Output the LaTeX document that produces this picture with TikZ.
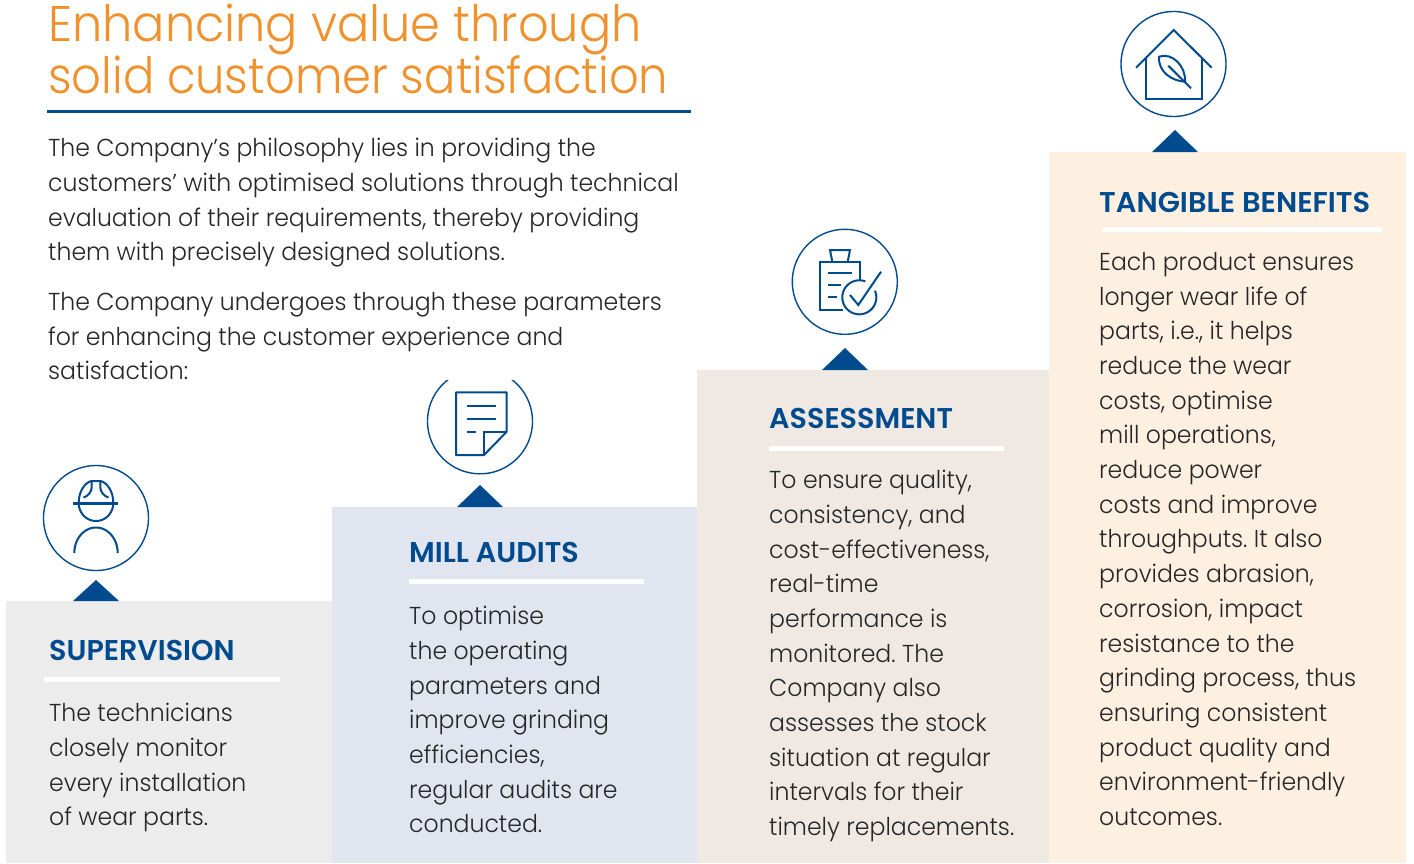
\documentclass[tikz,border=0pt]{standalone}
\usepackage{fontspec}
\setmainfont{Poppins Light}[FakeStretch=0.962]
\newfontfamily\headfont{Poppins SemiBold}
\frenchspacing
\definecolor{navy}{HTML}{004B8D}
\definecolor{orangeT}{HTML}{F0912C}
\definecolor{bodyT}{HTML}{262626}
\definecolor{boxA}{HTML}{ECECEC}
\definecolor{boxB}{HTML}{E1E5EF}
\definecolor{boxC}{HTML}{F0E9E3}
\definecolor{boxD}{HTML}{FDF0E1}
\tikzset{
 titletext/.style={anchor=base west,inner sep=0pt,text=orangeT,font=\fontsize{50}{52}\selectfont},
 bodytext/.style={anchor=north west,inner sep=0pt,align=left,text=bodyT,font=\fontsize{24.5}{34.7}\selectfont},
 headtext/.style={anchor=base west,inner sep=0pt,text=navy,font=\headfont\fontsize{28.6}{30}\selectfont},
 whiterule/.style={white,line width=5pt},
 tri/.style={fill=navy,draw=none},
 ring/.style={draw=navy,line width=1.4pt},
 icon/.style={draw=navy,line width=2pt},
}
\begin{document}
\begin{tikzpicture}[x=1pt,y=-1pt]
\useasboundingbox (0,0) rectangle (1414,863);
\fill[white] (0,0) rectangle (1414,863);
% boxes
\fill[boxA] (6,601) rectangle (332,863);
\fill[boxB] (332,507) rectangle (697,863);
\fill[boxC] (697,370) rectangle (1049,863);
\fill[boxD] (1049,152) rectangle (1406,863);
% triangles
\fill[tri] (73,601) -- (96,580) -- (119,601) -- cycle;
\fill[tri] (457,507) -- (480,485) -- (503,507) -- cycle;
\fill[tri] (822,370) -- (845,348) -- (868,370) -- cycle;
\fill[tri] (1152,152) -- (1175,130) -- (1198,152) -- cycle;
% title
\node[titletext] (titlea) at (48,41) {\scalebox{0.994}[1]{Enhancing value through}};
\node[titletext] (titleb) at (48,93) {\scalebox{0.966}[1]{solid customer satisfaction}};
\draw[navy,line width=3pt] (47,111.5) -- (691,111.5);
\node[bodytext] (introa) at (48,138) {The Company’s philosophy lies in providing the\\customers’ with optimised solutions through technical\\evaluation of their requirements, thereby providing\\them with precisely designed solutions.};
\node[bodytext] (introb) at (48,292) {The Company undergoes through these parameters\\for enhancing the customer experience and\\satisfaction:};
% headings
\node[headtext] (h1) at (49,660.7) {SUPERVISION};
\node[headtext] (h2) at (409,562.7) {MILL AUDITS};
\node[headtext] (h3) at (769,428.7) {ASSESSMENT};
\node[headtext] (h4) at (1099,212.7) {\scalebox{1.01}[1]{TANGIBLE BENEFITS}};
\draw[whiterule] (44,679) -- (280,679);
\draw[whiterule] (409,581) -- (644,581);
\draw[whiterule] (769,448) -- (1004,448);
\draw[whiterule] (1102,229) -- (1382,229);
% bodies
\node[bodytext] (b1) at (49,703) {The technicians\\closely monitor\\every installation\\of wear parts.};
\node[bodytext] (b2) at (409,606) {To optimise\\the operating\\parameters and\\improve grinding\\efficiencies,\\regular audits are\\conducted.};
\node[bodytext] (b3) at (769,470) {To ensure quality,\\consistency, and\\cost-effectiveness,\\real-time\\performance is\\monitored. The\\Company also\\assesses the stock\\situation at regular\\intervals for their\\timely replacements.};
\node[bodytext] (b4) at (1099,252) {Each product ensures\\longer wear life of\\parts, i.e., it helps\\reduce the wear\\costs, optimise\\mill operations,\\reduce power\\costs and improve\\throughputs. It also\\provides abrasion,\\corrosion, impact\\resistance to the\\grinding process, thus\\ensuring consistent\\product quality and\\environment-friendly\\outcomes.};
% rings
\draw[ring] plot[domain=0:360,samples=120,smooth] ({96+52.5*cos(\x)},{518+52.5*sin(\x)});
\begin{scope}
\clip (420,380) rectangle (540,480);
\draw[ring] plot[domain=0:360,samples=120,smooth] ({480+52.5*cos(\x)},{421.3+52.5*sin(\x)});
\end{scope}
\draw[ring] plot[domain=0:360,samples=120,smooth] ({844.8+52.5*cos(\x)},{281.8+52.5*sin(\x)});
\draw[ring] plot[domain=0:360,samples=120,smooth] ({1173.5+52.5*cos(\x)},{64+52.5*sin(\x)});
% worker
\draw[icon] plot[domain=0:180,samples=40] ({96+17.3*cos(\x)},{503+18*sin(\x)});
\draw[icon] (78.7,503) .. controls (78.7,491) and (85,482.5) .. (91.5,481) -- (100.5,481) .. controls (107,482.5) and (113.3,491) .. (113.3,503);
\draw[icon] (91.7,481) -- (91.7,487) .. controls (91.7,492) and (88,496) .. (83.5,497.5);
\draw[icon] (100.3,481) -- (100.3,487) .. controls (100.3,492) and (104,496) .. (108.5,497.5);
\draw[navy,line width=2.6pt] (73,503.3) -- (118,503.3);
\draw[icon] plot[domain=180:360,samples=40] ({96+21.7*cos(\x)},{553+25.5*sin(\x)});
% document
\draw[icon,line join=round] (484,455) -- (456,455) -- (456,392.3) -- (506.7,392.3) -- (506.7,431.7) -- cycle;
\draw[icon] (506.7,431.7) -- (484,431.7) -- (484,455);
\draw[icon] (466.7,405.7) -- (495.7,405.7);
\draw[icon] (466.7,419) -- (495.7,419);
\draw[icon] (466.7,431.7) -- (476,431.7);
% clipboard
\draw[icon] (843.3,310) -- (820,310) -- (820,261.7) -- (860,261.7) -- (860,280);
\draw[icon] (832.3,261.7) -- (830,250) -- (850,250) -- (847.7,261.7);
\draw[icon] (828.3,273.3) -- (851.7,273.3);
\draw[icon] (828.3,285) -- (840.7,285);
\draw[icon] (828.3,296.7) -- (837.3,296.7);
\draw[icon] plot[domain=69:383,samples=80] ({859.3+17*cos(\x)},{297.3-17*sin(\x)});
\draw[icon] (850,295) -- (858.3,305) -- (881,271.7);
% house
\draw[icon] (1136,67.7) -- (1173.7,30) -- (1211.7,67.7);
\draw[icon] (1145.7,58.3) -- (1145.7,99) -- (1201.7,99) -- (1201.7,58.3);
\draw[icon] (1185,81.7) .. controls (1172,81) and (1158,72) .. (1159,56.7) .. controls (1172,52) and (1186,66) .. (1185,81.7) -- cycle;
\draw[icon] (1168.3,65.7) -- (1191,88.3);
\end{tikzpicture}
\end{document}
